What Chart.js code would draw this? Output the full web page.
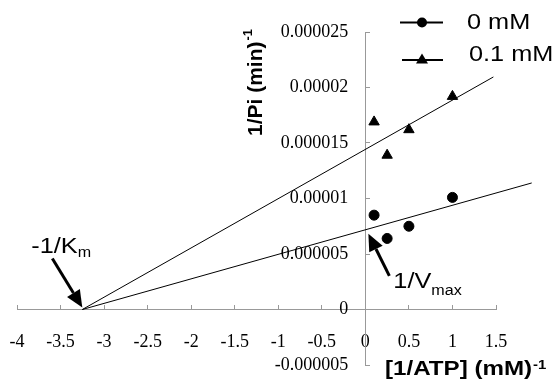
<!DOCTYPE html>
<html>
<head>
<meta charset="utf-8">
<script src="https://cdn.jsdelivr.net/npm/chart.js@4"></script>
<style>
  body { margin: 0; background: #fff; }
  canvas { display: block; }
</style>
</head>
<body>
<canvas id="lbChart" width="555" height="383"></canvas>
<script>
// 1/[ATP] (mM)^-1
const atpInv = [0.1, 0.25, 0.5, 1];
// 1/Pi (min)^-1
const rate0 = [8.5e-6, 6.4e-6, 7.5e-6, 1.01e-5];
const rate01 = [1.69e-5, 1.39e-5, 1.62e-5, 1.92e-5];
// rette di regressione: estremi
const fit0X = [-3.25, 1.91];
const fit0Y = [0, 1.14e-5];
const fit01X = [-3.25, 1.47];
const fit01Y = [0, 2.095e-5];
const seriesNames = ['0 mM', '0.1 mM'];
const xTicks = [-4, -3.5, -3, -2.5, -2, -1.5, -1, -0.5, 0, 0.5, 1, 1.5];
const yTicks = [-0.000005, 0, 0.000005, 0.00001, 0.000015, 0.00002, 0.000025];

const AXIS_GREY = '#999';
const SX = 1.15; // testo un po' allargato come nell'originale

function pts(xs, ys) {
    return xs.map((x, i) => ({ x: x, y: ys[i] }));
}

function wideText(ctx, str, x, y, font, sx) {
    ctx.save();
    ctx.translate(x, y);
    ctx.scale(sx, 1);
    ctx.font = font;
    ctx.fillText(str, 0, 0);
    const w = ctx.measureText(str).width * sx;
    ctx.restore();
    return w;
}

function arrow(ctx, x1, y1, x2, y2, headLen, headW) {
    const ang = Math.atan2(y2 - y1, x2 - x1);
    const bx = x2 - Math.cos(ang) * headLen;
    const by = y2 - Math.sin(ang) * headLen;
    ctx.beginPath();
    ctx.lineWidth = 3;
    ctx.moveTo(x1, y1);
    ctx.lineTo(bx, by);
    ctx.stroke();
    ctx.beginPath();
    ctx.moveTo(x2, y2);
    ctx.lineTo(bx + Math.sin(ang) * headW / 2, by - Math.cos(ang) * headW / 2);
    ctx.lineTo(bx - Math.sin(ang) * headW / 2, by + Math.cos(ang) * headW / 2);
    ctx.closePath();
    ctx.fill();
}

// gli assi sono al centro: spostiamo le etichette dei tick come nell'originale
const shiftLabels = {
    id: 'shiftLabels',
    beforeDraw(chart) {
        const yItems = chart.scales.y.getLabelItems(chart.chartArea);
        if (!yItems.shifted) {
            yItems.forEach(it => { it.options.translation[0] -= 17; });
            yItems.shifted = true;
        }
        const xItems = chart.scales.x.getLabelItems(chart.chartArea);
        if (!xItems.shifted) {
            xItems.forEach(it => { it.options.translation[1] += 27; });
            xItems.shifted = true;
        }
    }
};

const extras = {
    id: 'extras',
    afterDraw(chart) {
        const ctx = chart.ctx;
        const xs = chart.scales.x;
        const ys = chart.scales.y;
        ctx.save();
        ctx.fillStyle = '#000';
        ctx.strokeStyle = '#000';
        ctx.textBaseline = 'alphabetic';
        ctx.textAlign = 'left';

        // titolo asse y (ruotato)
        ctx.save();
        ctx.translate(254, 136);
        ctx.rotate(-Math.PI / 2);
        ctx.font = 'bold 21px "Liberation Sans"';
        ctx.fillText('1/Pi (min)', 0, 8);
        const wy = ctx.measureText('1/Pi (min)').width;
        ctx.font = 'bold 13px "Liberation Sans"';
        ctx.fillText('-1', wy + 1, -2);
        ctx.restore();

        // titolo asse x
        const wx = wideText(ctx, '[1/ATP] (mM)', 385, 375, 'bold 21px "Liberation Sans"', SX);
        wideText(ctx, '-1', 385 + wx + 1, 369, 'bold 13px "Liberation Sans"', SX);

        // legenda
        ctx.lineWidth = 2;
        ctx.beginPath();
        ctx.moveTo(400, 22.5); ctx.lineTo(443, 22.5);
        ctx.moveTo(402, 60); ctx.lineTo(443, 60);
        ctx.stroke();
        ctx.beginPath();
        ctx.arc(422, 22.5, 5, 0, Math.PI * 2);
        ctx.fill();
        ctx.beginPath();
        ctx.moveTo(422, 53.5); ctx.lineTo(428, 63.5); ctx.lineTo(416, 63.5);
        ctx.closePath();
        ctx.fill();
        ctx.textBaseline = 'middle';
        wideText(ctx, seriesNames[0], 467, 23, '22px "Liberation Sans"', SX);
        wideText(ctx, seriesNames[1], 469, 55, '22px "Liberation Sans"', SX);
        ctx.textBaseline = 'alphabetic';

        // -1/Km
        const kmX = xs.getPixelForValue(fit0X[0]);
        const kmY = ys.getPixelForValue(0);
        arrow(ctx, kmX - 30, kmY - 51, kmX, kmY - 2, 17, 15);
        const wk = wideText(ctx, '-1/K', kmX - 51, kmY - 57, '22px "Liberation Sans"', SX);
        wideText(ctx, 'm', kmX - 51 + wk, kmY - 53, '14px "Liberation Sans"', SX);

        // 1/Vmax
        const vX = xs.getPixelForValue(0);
        const vY = ys.getPixelForValue(fit0Y[0] + (fit0Y[1] - fit0Y[0]) * (0 - fit0X[0]) / (fit0X[1] - fit0X[0]));
        arrow(ctx, vX + 24, vY + 46, vX + 3, vY + 4, 17, 15);
        const wv = wideText(ctx, '1/V', vX + 28, vY + 58, '22px "Liberation Sans"', SX);
        wideText(ctx, 'max', vX + 28 + wv, vY + 65, '14px "Liberation Sans"', SX);

        ctx.restore();
    }
};

new Chart(document.getElementById('lbChart'), {
    type: 'scatter',
    data: {
        datasets: [
            {
                label: seriesNames[0],
                data: pts(atpInv, rate0),
                pointStyle: 'circle',
                pointRadius: 5,
                pointBorderWidth: 1,
                backgroundColor: '#000',
                borderColor: '#000'
            },
            {
                label: seriesNames[1],
                data: pts(atpInv, rate01),
                pointStyle: 'triangle',
                pointRadius: 6,
                pointBorderWidth: 1,
                backgroundColor: '#000',
                borderColor: '#000'
            },
            {
                label: 'fit 0 mM',
                data: pts(fit0X, fit0Y),
                showLine: true,
                pointRadius: 0,
                borderWidth: 1,
                borderColor: '#000',
                clip: false
            },
            {
                label: 'fit 0.1 mM',
                data: pts(fit01X, fit01Y),
                showLine: true,
                pointRadius: 0,
                borderWidth: 1,
                borderColor: '#000',
                clip: false
            }
        ]
    },
    options: {
        responsive: false,
        animation: false,
        layout: { padding: { left: 17, right: 59, top: 32, bottom: 18 } },
        plugins: {
            legend: { display: false },
            tooltip: { enabled: false }
        },
        scales: {
            x: {
                type: 'linear',
                min: -4,
                max: 1.5,
                position: { y: 0 },
                afterBuildTicks: (axis) => { axis.ticks = xTicks.map(v => ({ value: v })); },
                grid: { drawOnChartArea: false, tickLength: -5, color: AXIS_GREY },
                border: { color: AXIS_GREY },
                ticks: {
                    padding: 0,
                    autoSkip: false,
                    maxRotation: 0,
                    color: '#000',
                    font: { family: 'Liberation Serif', size: 18 },
                    callback: (v) => String(v)
                }
            },
            y: {
                type: 'linear',
                min: -0.000005,
                max: 0.000025,
                position: { x: 0 },
                afterBuildTicks: (axis) => { axis.ticks = yTicks.map(v => ({ value: v })); },
                grid: { drawOnChartArea: false, tickLength: -5, color: AXIS_GREY },
                border: { color: AXIS_GREY },
                ticks: {
                    padding: 0,
                    autoSkip: false,
                    color: '#000',
                    font: { family: 'Liberation Serif', size: 18 },
                    callback: (v) => String(v)
                }
            }
        }
    },
    plugins: [shiftLabels, extras]
});
</script>
</body>
</html>
